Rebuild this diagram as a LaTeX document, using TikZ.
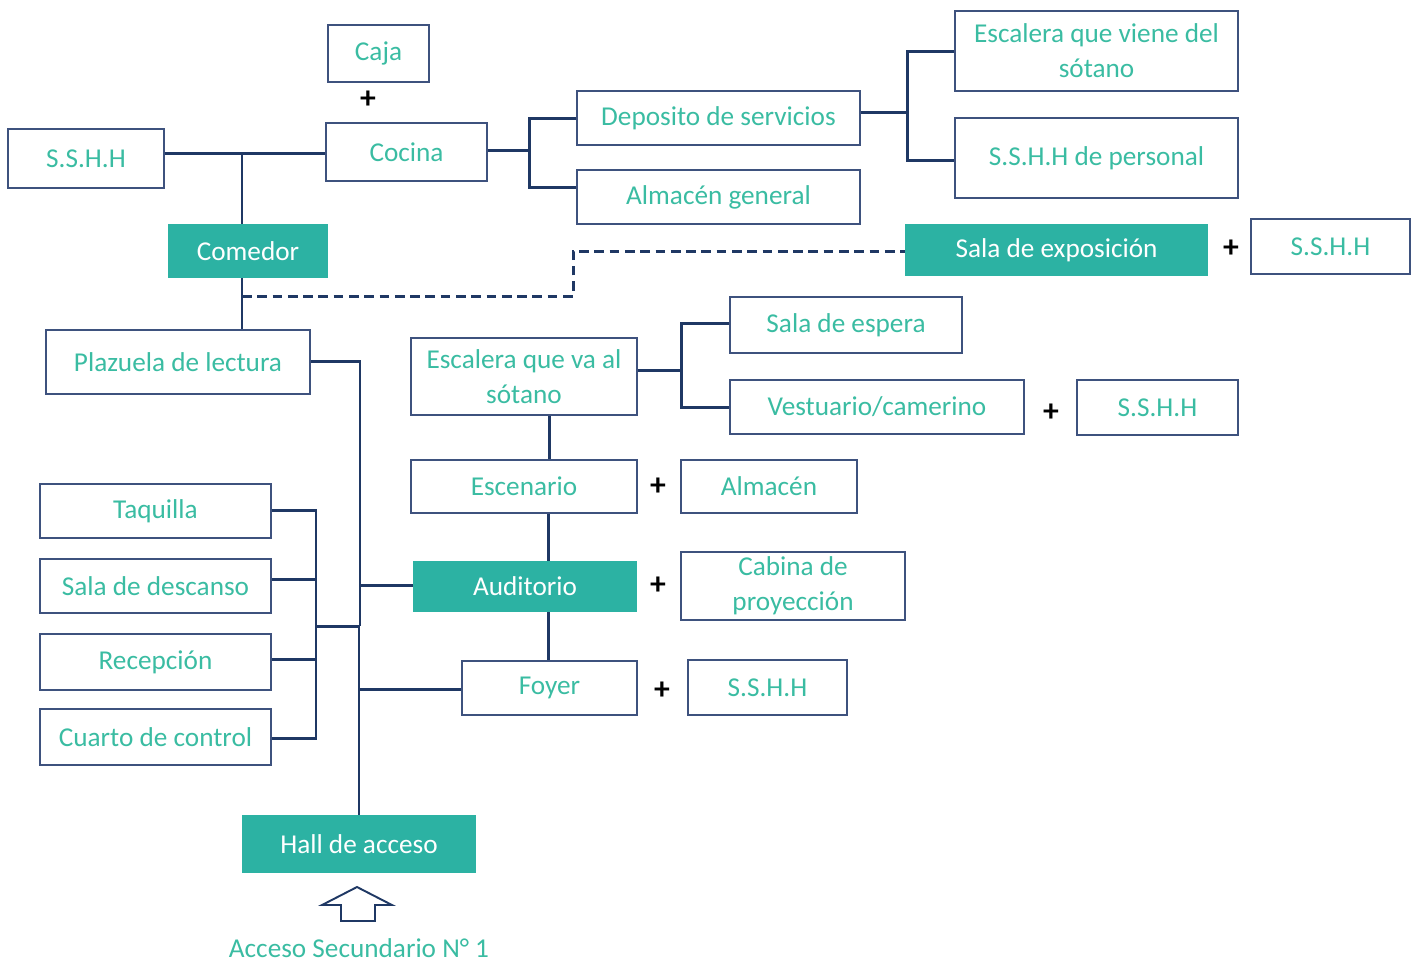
\documentclass[tikz,border=0pt]{standalone}
\usepackage{fontspec}
\setmainfont{Carlito}
\definecolor{verde}{RGB}{44,178,163}
\definecolor{txtverde}{RGB}{58,188,162}
\definecolor{borde}{RGB}{62,82,126}
\definecolor{linea}{RGB}{31,56,100}

\begin{document}
\begin{tikzpicture}[x=0.02cm,y=-0.02cm,
 caja/.style={draw=borde,line width=1pt,text=txtverde,inner sep=0pt,align=center,
   font=\fontsize{15.5}{20}\selectfont},
 llena/.style={fill=verde,text=white,inner sep=0pt,font=\fontsize{15.5}{20}\selectfont},
 ln/.style={draw=linea,line width=1.7pt},
 dsh/.style={draw=linea,line width=1.7pt,dash pattern=on 5.5pt off 3.2pt},
 mas/.style={inner sep=0pt,font=\fontsize{18}{20}\selectfont\bfseries}]
\useasboundingbox (0,0) rectangle (1419,965);
% zona comedor / cocina
\node[caja,minimum width=2.02cm,minimum height=1.14cm] (caja) at (378.5,53.5) {Caja};
\node[mas] (m1) at (368,100) {+};
\node[caja,minimum width=3.22cm,minimum height=1.16cm] (cocina) at (406.5,152) {Cocina};
\node[caja,minimum width=3.12cm,minimum height=1.18cm] (sshA) at (86,158.5) {S.S.H.H};
\node[llena,minimum width=3.2cm,minimum height=1.08cm] (comedor) at (248,251) {Comedor};
\node[caja,minimum width=5.66cm,minimum height=1.08cm] (depo) at (718.5,118) {Deposito de servicios};
\node[caja,minimum width=5.66cm,minimum height=1.08cm] (almg) at (718.5,197) {Almacén general};
\node[caja,minimum width=5.66cm,minimum height=1.6cm] (escv) at (1096.5,51) {Escalera que viene del\\sótano};
\node[caja,minimum width=5.66cm,minimum height=1.6cm] (sshP) at (1096.5,158) {S.S.H.H de personal};
\node[llena,minimum width=6.06cm,minimum height=1.04cm] (expo) at (1056.5,250) {Sala de exposición};
\node[mas] (m2) at (1231,249) {+};
\node[caja,minimum width=3.18cm,minimum height=1.1cm] (sshB) at (1330.5,246.5) {S.S.H.H};
\node[caja,minimum width=5.28cm,minimum height=1.28cm] (plaz) at (178,362) {Plazuela de lectura};
% zona auditorio
\node[caja,minimum width=4.52cm,minimum height=1.54cm] (escva) at (524,376.5) {Escalera que va al\\sótano};
\node[caja,minimum width=4.64cm,minimum height=1.12cm] (espera) at (846,325) {Sala de espera};
\node[caja,minimum width=5.88cm,minimum height=1.08cm] (vest) at (877,407) {Vestuario/camerino};
\node[mas] (m3) at (1051,413) {+};
\node[caja,minimum width=3.22cm,minimum height=1.1cm] (sshC) at (1157.5,407.5) {S.S.H.H};
\node[caja,minimum width=4.52cm,minimum height=1.06cm] (esc) at (524,486.5) {Escenario};
\node[mas] (m4) at (658,487) {+};
\node[caja,minimum width=3.52cm,minimum height=1.06cm] (alm) at (769,486.5) {Almacén};
\node[llena,minimum width=4.48cm,minimum height=1.02cm] (audi) at (525,586.5) {Auditorio};
\node[mas] (m5) at (658,586) {+};
\node[caja,minimum width=4.48cm,minimum height=1.36cm] (cabina) at (793,586) {Cabina de\\proyección};
\node[caja,minimum width=3.5cm,minimum height=1.08cm] (foyer) at (549.5,688) {Foyer};
\node[mas] (m6) at (662,691) {+};
\node[caja,minimum width=3.18cm,minimum height=1.1cm] (sshD) at (767.5,687.5) {S.S.H.H};
% zona ingreso
\node[caja,minimum width=4.62cm,minimum height=1.08cm] (taq) at (155.5,511) {Taquilla};
\node[caja,minimum width=4.62cm,minimum height=1.08cm] (desc) at (155.5,586) {Sala de descanso};
\node[caja,minimum width=4.62cm,minimum height=1.12cm] (recep) at (155.5,662) {Recepción};
\node[caja,minimum width=4.62cm,minimum height=1.12cm] (ctrl) at (155.5,737) {Cuarto de control};
\node[llena,minimum width=4.68cm,minimum height=1.16cm] (hall) at (359,844) {Hall de acceso};
\node[text=txtverde,inner sep=0pt,font=\fontsize{15.5}{20}\selectfont] (acc) at (359,948) {Acceso Secundario N° 1};
\draw[draw=linea,line width=1.1pt,line join=miter] (357,887) -- (392,905) -- (375,905) -- (375,921)
  -- (341,921) -- (341,905) -- (322,905) -- cycle;
% conexiones
\coordinate (j1) at (242,153);
\draw[ln] (sshA.east |- j1) -- (cocina.west |- j1);
\draw[ln] (j1) -- (j1 |- comedor.north);
\draw[ln] (j1 |- comedor.south) -- (j1 |- plaz.north);
\coordinate (d1) at (242,296);
\draw[dsh] (d1) -- (573,296) -- (573,251) -- (expo.west |- 0,251);
\coordinate (j2) at (529,150);
\draw[ln] (cocina.east |- j2) -- (j2);
\draw[ln] (depo.west) -- (j2 |- depo.west) -- (j2 |- 0,187) -- (almg.west |- 0,187);
\coordinate (j3) at (907,112);
\draw[ln] (depo.east |- j3) -- (j3);
\draw[ln] (escv.west) -- (j3 |- escv.west) -- (j3 |- 0,160) -- (sshP.west |- 0,160);
\coordinate (j4) at (360,361);
\draw[ln] (plaz.east |- j4) -- (j4) -- (360,626);
\draw[ln] (hall.north -| 359,0) -- (359,626) -- (316,626);
\draw[ln] (audi.west |- 0,585) -- (360,585);
\draw[ln] (foyer.west |- 0,689) -- (359,689);
\coordinate (j5) at (316,510);
\draw[ln] (taq.east |- j5) -- (j5) -- (316,738) -- (ctrl.east |- 0,738);
\draw[ln] (desc.east |- 0,579) -- (316,579);
\draw[ln] (recep.east |- 0,659) -- (316,659);
\coordinate (j6) at (681,370);
\draw[ln] (escva.east |- j6) -- (j6);
\draw[ln] (espera.west |- 0,323) -- (j6 |- 0,323) -- (j6 |- 0,407) -- (vest.west |- 0,407);
\draw[ln] (escva.south -| 549,0) -- (esc.north -| 549,0);
\draw[ln] (esc.south -| 548,0) -- (audi.north -| 548,0);
\draw[ln] (audi.south -| 548,0) -- (foyer.north -| 548,0);
\end{tikzpicture}
\end{document}
